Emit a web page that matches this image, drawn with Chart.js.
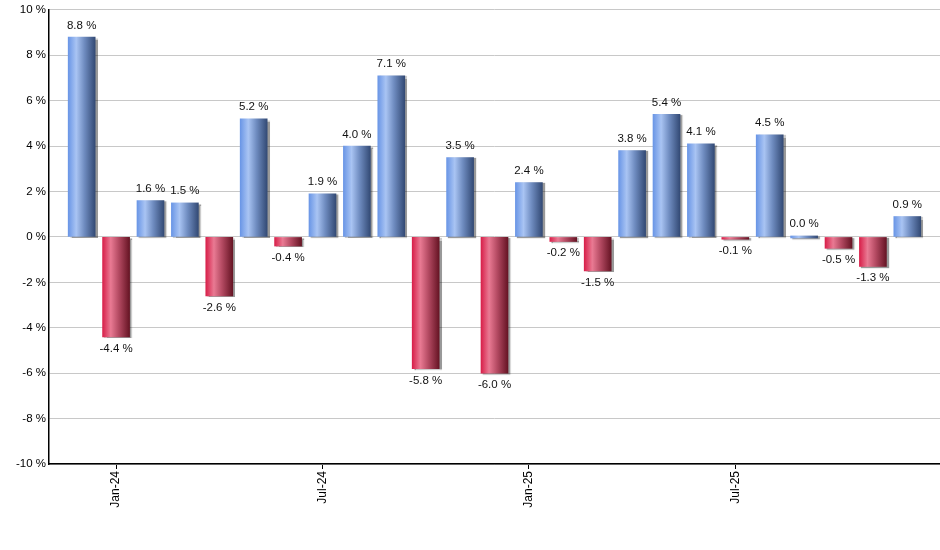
<!DOCTYPE html>
<html>
<head>
<meta charset="utf-8">
<script src="https://cdn.jsdelivr.net/npm/chart.js@4/dist/chart.umd.min.js"></script>
<style>
html,body{margin:0;padding:0;background:#fff;}
#wrap{width:940px;height:550px;position:relative;}
</style>
</head>
<body>
<div id="wrap"><canvas id="c" width="940" height="550"></canvas></div>
<script>
const categories = ["Dec-23","Jan-24","Feb-24","Mar-24","Apr-24","May-24","Jun-24","Jul-24","Aug-24","Sep-24","Oct-24","Nov-24","Dec-24","Jan-25","Feb-25","Mar-25","Apr-25","May-25","Jun-25","Jul-25","Aug-25","Sep-25","Oct-25","Nov-25","Dec-25"];
const values = [8.8,-4.4,1.6,1.5,-2.6,5.2,-0.4,1.9,4.0,7.1,-5.8,3.5,-6.0,2.4,-0.2,-1.5,3.8,5.4,4.1,-0.1,4.5,0.0,-0.5,-1.3,0.9];
const tickLabels = ["Jan-24","Jul-24","Jan-25","Jul-25"];
const yTicks = [-10,-8,-6,-4,-2,0,2,4,6,8,10];

const points = values.map((v,i)=>({x:i,y:v}));
const tickIdx = tickLabels.map(l=>categories.indexOf(l));
const FONT = "'Liberation Sans', Arial, sans-serif";

function barFill(ctx){
  const chart = ctx.chart;
  if(!chart.chartArea || ctx.type!=='data') return '#7ba2ec';
  const v = values[ctx.dataIndex];
  const x = chart.scales.x.getPixelForValue(ctx.dataIndex);
  const g = chart.ctx.createLinearGradient(x-13.5,0,x+13.5,0);
  if(v>=0){
    g.addColorStop(0,'#6a96e6');
    g.addColorStop(0.3,'#a9c4f3');
    g.addColorStop(0.6,'#6f8cc0');
    g.addColorStop(1,'#334a75');
  } else {
    g.addColorStop(0,'#d8204a');
    g.addColorStop(0.3,'#e97a93');
    g.addColorStop(0.6,'#b44a62');
    g.addColorStop(1,'#661424');
  }
  return g;
}

const shadowPlugin = {
  id:'shadow',
  beforeDatasetsDraw(chart){
    const c = chart.ctx; c.save();
    c.shadowColor='rgba(0,0,0,0.4)';
    c.shadowOffsetX=2; c.shadowOffsetY=1; c.shadowBlur=1;
  },
  afterDatasetsDraw(chart){
    const c = chart.ctx; c.restore();
    const meta = chart.getDatasetMeta(0);
    c.save();
    c.font = "11.5px "+FONT;
    c.fillStyle = '#111';
    c.textAlign='center';
    meta.data.forEach((el,i)=>{
      const v = values[i];
      const txt = v.toFixed(1)+' %';
      if(v>=0){ c.textBaseline='bottom'; c.fillText(txt, el.x, Math.min(el.y, el.base)-6); }
      else { c.textBaseline='top'; c.fillText(txt, el.x, el.y+6); }
    });
    c.restore();
  }
};

new Chart(document.getElementById('c'),{
  type:'bar',
  data:{datasets:[{data:points, backgroundColor:barFill, borderWidth:0, barThickness:27, minBarLength:2}]},
  options:{
    responsive:false, animation:false, devicePixelRatio:1,
    layout:{padding:{top:9,right:0,left:0,bottom:0}},
    plugins:{legend:{display:false}, tooltip:{enabled:false}},
    scales:{
      x:{
        type:'linear', min:-0.95, max:24.95, offset:false,
        afterBuildTicks(s){ s.ticks = tickIdx.map(v=>({value:v})); },
        afterFit(s){ s.height = 86; },
        ticks:{ callback:(v)=>categories[v], minRotation:90, maxRotation:90, autoSkip:false, color:'#000', font:{family:FONT,size:12}, padding:2 },
        grid:{ offset:false, drawOnChartArea:false, drawTicks:true, tickLength:5, color:'#000', lineWidth:1 },
        border:{ display:true, color:'#000', width:1.5 }
      },
      y:{
        min:-10, max:10,
        afterBuildTicks(s){ s.ticks = yTicks.map(v=>({value:v})); },
        afterFit(s){ s.width = 49; },
        ticks:{ callback:(v)=>v+' %', color:'#000', font:{family:FONT,size:11.5}, padding:3 },
        grid:{ color:'#c8c8c8', lineWidth:1, drawTicks:false },
        border:{ display:true, color:'#000', width:1.5 }
      }
    }
  },
  plugins:[shadowPlugin]
});
</script>
</body>
</html>
